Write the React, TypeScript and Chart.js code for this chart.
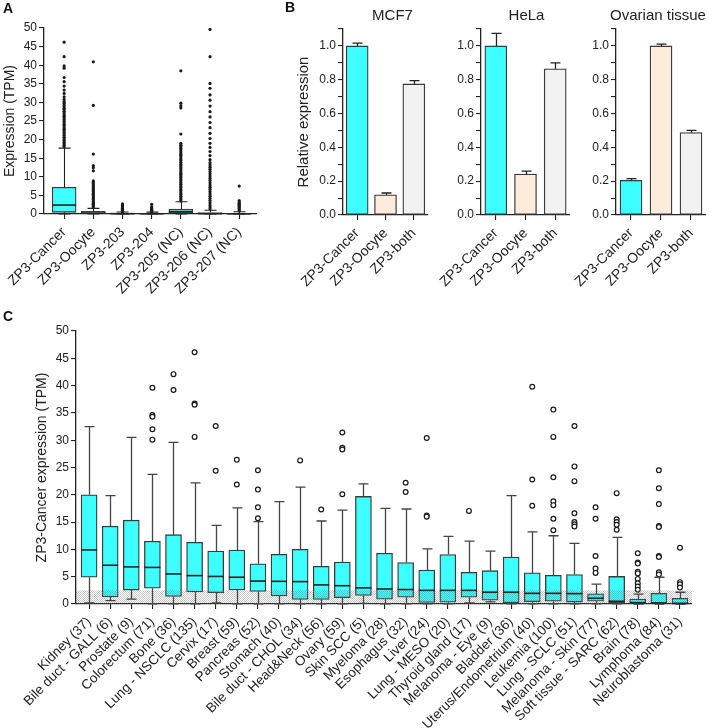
import React, { useEffect, useRef } from 'react';
import { Chart, registerables } from 'chart.js';

Chart.register(...registerables);

const FONT = '"Liberation Sans", Arial, Helvetica, sans-serif';
Chart.defaults.font.family = FONT;
Chart.defaults.color = '#222';

const INK = '#222222';
const EDGE = '#3a3a3a';
const CYAN = '#3EFFFF';
const PEACH = '#FDEBDC';
const LIGHT = '#F2F2F2';

// ---------------- Panel A: transcripts ----------------
const labelsA = ['ZP3-Cancer', 'ZP3-Oocyte', 'ZP3-203', 'ZP3-204', 'ZP3-205 (NC)', 'ZP3-206 (NC)', 'ZP3-207 (NC)'];
const loA = [0, 0, 0, 0, 0, 0, 0];
const q1A = [0.45, 0.05, 0.0, 0.0, 0.2, 0.0, 0.0];
const medA = [2.4, 0.25, 0.08, 0.06, 0.6, 0.1, 0.05];
const q3A = [7.2, 0.7, 0.25, 0.2, 1.3, 0.4, 0.15];
const hiA = [17.7, 1.5, 0.55, 0.5, 3.3, 1.0, 0.6];
const outCancerA = [46.2, 42.3, 39.8, 39.2, 36.7, 35.6, 34.4, 33.3, 32.4, 31.5, 30.8, 30.2, 29.8, 29.3, 28.9, 28.4, 28.1, 27.6, 27.2, 26.7, 26.3, 25.9, 25.4, 25.0, 24.6, 24.1, 23.7, 23.2, 22.8, 22.4, 21.9, 21.5, 21.1, 20.6, 20.2, 19.8, 19.3, 18.9, 18.5, 18.1];
const outOocyteA = [40.9, 29.2, 16.1, 13.0, 12.4, 11.6, 8.9, 8.5, 8.1, 7.8, 7.4, 7.0, 6.7, 6.3, 6.0, 5.6, 5.3, 4.9, 4.6, 4.2, 3.9, 3.5, 3.2, 2.9, 2.6, 2.3, 2.0, 1.7];
const out203A = [2.7, 2.4, 2.2, 1.9, 1.7, 1.5, 1.3, 1.1, 0.9, 0.75, 0.6];
const out204A = [2.6, 1.9, 1.6, 1.4, 1.2, 1.0, 0.85, 0.7, 0.55];
const out205A = [38.5, 29.8, 29.1, 28.5, 21.5, 19.0, 18.5, 18.1, 17.6, 17.2, 16.7, 16.2, 15.8, 15.3, 14.8, 14.4, 13.9, 13.4, 13.0, 12.5, 12.1, 11.6, 11.1, 10.7, 10.2, 9.8, 9.3, 8.9, 8.4, 8.0, 7.5, 7.1, 6.6, 6.2, 5.7, 5.3, 4.8, 4.4, 3.9, 3.5];
const out206A = [49.6, 42.3, 35.1, 33.8, 32.0, 30.6, 29.0, 27.5, 26.1, 24.6, 23.2, 21.7, 20.3, 19.0, 17.9, 16.8, 15.7, 14.6, 13.8, 13.2, 12.6, 12.0, 11.4, 10.8, 10.2, 9.6, 9.0, 8.4, 7.8, 7.2, 6.6, 6.0, 5.4, 4.8, 4.2, 3.6, 3.0, 2.4, 1.9, 1.4];
const out207A = [7.5, 3.6, 3.2, 2.9, 2.6, 2.3, 2.0, 1.7, 1.4, 1.1, 0.8];
const outA = [outCancerA, outOocyteA, out203A, out204A, out205A, out206A, out207A];

// ---------------- Panel B: qPCR ----------------
const labelsB = ['ZP3-Cancer', 'ZP3-Oocyte', 'ZP3-both'];
const mcf7Mean = [1.0, 0.12, 0.775];
const mcf7Err = [0.017, 0.01, 0.02];
const helaMean = [1.0, 0.242, 0.865];
const helaErr = [0.074, 0.018, 0.035];
const ovaryMean = [0.205, 1.0, 0.487];
const ovaryErr = [0.01, 0.01, 0.014];

// ---------------- Panel C: tumour types ----------------
const labelsC = ['Kidney (37)', 'Bile duct - GALL (6)', 'Prostate (9)', 'Colorectum (71)', 'Bone (36)', 'Lung - NSCLC (135)', 'Cervix (17)', 'Breast (59)', 'Pancreas (52)', 'Stomach (40)', 'Bile duct - CHOL (34)', 'Head&Neck (56)', 'Ovary (59)', 'Skin SCC (5)', 'Myeloma (28)', 'Esophagus (32)', 'Liver (24)', 'Lung - MESO (20)', 'Thyroid gland (17)', 'Melanoma - Eye (9)', 'Bladder (36)', 'Uterus/Endometrium (40)', 'Leukemia (100)', 'Lung - SCLC (51)', 'Melanoma - Skin (77)', 'Soft tissue - SARC (62)', 'Brain (78)', 'Lymphoma (84)', 'Neuroblastoma (31)'];
const loC = [0.2, 0.6, 0.9, 0.05, 0.05, 0.05, 0.2, 0.05, 0.05, 0.05, 0.05, 0.05, 0.05, 0.1, 0.05, 0.05, 0.05, 0.05, 0.2, 0.4, 0.05, 0.05, 0.05, 0.05, 0.05, 0.05, 0.0, 0.0, 0.0];
const q1C = [4.9, 1.3, 2.55, 2.9, 1.4, 2.2, 2.07, 2.56, 2.3, 1.46, 0.85, 0.85, 1.16, 1.55, 0.88, 1.25, 0.28, 0.32, 1.25, 0.68, 0.22, 0.42, 0.5, 0.35, 0.5, 0.22, 0.1, 0.05, 0.05];
const medC = [9.9, 7.1, 6.8, 6.7, 5.5, 5.2, 5.05, 4.9, 4.2, 4.15, 4.1, 3.5, 3.35, 2.95, 2.75, 2.65, 2.5, 2.5, 2.5, 2.15, 2.15, 1.95, 1.95, 1.9, 1.05, 0.5, 0.25, 0.2, 0.1];
const q3C = [20.0, 14.25, 15.35, 11.5, 12.7, 11.3, 9.7, 9.87, 7.37, 9.1, 10.0, 6.9, 7.7, 19.7, 9.3, 7.6, 6.2, 9.07, 5.8, 6.1, 8.6, 5.7, 5.24, 5.4, 1.85, 5.05, 0.9, 1.95, 1.05];
const hiC = [32.5, 19.85, 30.5, 23.75, 29.6, 22.2, 14.4, 17.6, 15.1, 18.75, 21.4, 15.2, 17.2, 22.0, 17.5, 17.4, 10.1, 12.4, 11.5, 9.7, 19.85, 13.2, 12.5, 11.1, 3.65, 12.2, 1.8, 4.9, 2.15];
const outC = [
  [], [], [],
  [39.6, 34.6, 34.3, 32.0, 30.1],
  [42.1, 39.2],
  [46.1, 36.7, 36.5, 30.6],
  [32.6, 24.4],
  [26.4, 21.9],
  [24.5, 20.95, 17.7, 15.7],
  [],
  [26.3],
  [17.3],
  [31.4, 28.6, 28.3, 20.1],
  [], [],
  [22.2, 20.5],
  [30.4, 16.2, 16.0],
  [],
  [17.05],
  [], [],
  [39.8, 22.8, 18.0],
  [35.6, 30.6, 23.2, 18.8, 18.1, 15.6, 13.5],
  [32.6, 25.2, 22.5, 16.6, 15.0, 14.6, 14.2],
  [17.7, 15.6, 8.8, 6.5, 5.7],
  [20.3, 15.5, 15.0, 14.5, 13.6],
  [9.3, 7.6, 7.4, 5.9, 5.6, 4.6, 3.8, 3.2, 2.6],
  [24.5, 21.2, 18.3, 14.3, 14.1, 8.8, 8.6, 5.8, 5.4],
  [10.3, 4.0, 3.6, 3.0],
];
const thresholdC = 2.5;

// ---------------- helpers ----------------
const fixSize = (w?: number, h?: number) => (s: any) => {
  if (w != null) s.width = w;
  if (h != null) s.height = h;
  s.paddingLeft = 0;
  s.paddingRight = 0;
  s.paddingTop = 0;
  s.paddingBottom = 0;
};
const intTicks = (n: number) => (s: any) => {
  s.ticks = Array.from({ length: n }, (_, i) => ({ value: i }));
};
const grid = () => ({ display: true, drawOnChartArea: false, drawTicks: true, tickLength: 5, color: INK, lineWidth: 1.1, offset: false });
const border = () => ({ display: true, color: INK, width: 1.3 });

function boxPlugin(d: { lo: number[]; q1: number[]; med: number[]; q3: number[]; hi: number[]; cap: number; boxW: number; whisker: string; lw: number; band?: number }) {
  let pattern: CanvasPattern | null = null;
  return {
    id: 'boxExtras',
    afterDatasetsDraw(chart: any) {
      const { ctx, chartArea } = chart;
      const xs = chart.scales.x;
      const ys = chart.scales.y;
      ctx.save();
      if (d.band != null) {
        if (!pattern) {
          const pc = document.createElement('canvas');
          pc.width = 2;
          pc.height = 2;
          const p = pc.getContext('2d')!;
          p.fillStyle = 'rgba(110,110,110,0.38)';
          p.fillRect(0, 0, 1, 1);
          p.fillRect(1, 1, 1, 1);
          pattern = ctx.createPattern(pc, 'repeat');
        }
        const yb = ys.getPixelForValue(d.band);
        const y0 = ys.getPixelForValue(0);
        ctx.fillStyle = pattern as any;
        ctx.fillRect(chartArea.left, yb, chartArea.right - chartArea.left, y0 - yb);
      }
      ctx.strokeStyle = d.whisker;
      ctx.lineWidth = d.lw;
      d.med.forEach((m, i) => {
        const x = Math.round(xs.getPixelForValue(i)) + 0.5;
        const yHi = ys.getPixelForValue(d.hi[i]);
        const yQ3 = ys.getPixelForValue(d.q3[i]);
        const yQ1 = ys.getPixelForValue(d.q1[i]);
        const yLo = ys.getPixelForValue(d.lo[i]);
        ctx.beginPath();
        ctx.moveTo(x, yQ3);
        ctx.lineTo(x, yHi);
        ctx.moveTo(x - d.cap / 2, yHi);
        ctx.lineTo(x + d.cap / 2, yHi);
        ctx.moveTo(x, yQ1);
        ctx.lineTo(x, yLo);
        ctx.moveTo(x - d.cap / 2, yLo);
        ctx.lineTo(x + d.cap / 2, yLo);
        ctx.stroke();
      });
      ctx.strokeStyle = INK;
      ctx.lineWidth = 1.6;
      d.med.forEach((m, i) => {
        const x = xs.getPixelForValue(i);
        const y = ys.getPixelForValue(m);
        ctx.beginPath();
        ctx.moveTo(x - d.boxW / 2, y);
        ctx.lineTo(x + d.boxW / 2, y);
        ctx.stroke();
      });
      ctx.restore();
    },
  };
}

function errorPlugin(mean: number[], err: number[], title: string, dx: number) {
  return {
    id: 'errAndTitle',
    afterDatasetsDraw(chart: any) {
      const { ctx } = chart;
      const ys = chart.scales.y;
      const meta = chart.getDatasetMeta(0);
      ctx.save();
      ctx.strokeStyle = INK;
      ctx.lineWidth = 1.3;
      meta.data.forEach((bar: any, i: number) => {
        const x = Math.round(bar.x) + 0.5;
        const y1 = ys.getPixelForValue(mean[i]);
        const y2 = ys.getPixelForValue(mean[i] + err[i]);
        ctx.beginPath();
        ctx.moveTo(x, y1);
        ctx.lineTo(x, y2);
        ctx.moveTo(x - 5, y2);
        ctx.lineTo(x + 5, y2);
        ctx.stroke();
      });
      ctx.restore();
    },
    afterDraw(chart: any) {
      const { ctx, chartArea } = chart;
      ctx.save();
      ctx.font = `15px ${FONT}`;
      ctx.fillStyle = INK;
      ctx.textAlign = 'center';
      ctx.textBaseline = 'middle';
      ctx.fillText(title, (chartArea.left + chartArea.right) / 2 + dx, 16);
      ctx.restore();
    },
  };
}

type BoxCfg = {
  labels: string[]; lo: number[]; q1: number[]; med: number[]; q3: number[]; hi: number[]; out: number[][];
  xmin: number; xmax: number; boxW: number; yWidth: number; xHeight: number; padTop: number; padRight: number;
  yTitle: string; yTitlePad: number; xFont: number; cap: number; whisker: string; wlw: number;
  filledPoints: boolean; band?: number;
};

function buildBoxChart(c: BoxCfg) {
  const boxes = c.labels.map((_, i) => ({ x: i, y: [c.q1[i], c.q3[i]] }));
  const pts = c.out.flatMap((arr, i) => arr.map((v) => ({ x: i, y: v })));
  return {
    type: 'bar',
    data: {
      datasets: [
        { type: 'bar', data: boxes, backgroundColor: CYAN, borderColor: EDGE, borderWidth: 1.3, borderSkipped: false, barThickness: c.boxW, order: 2 },
        c.filledPoints
          ? { type: 'scatter', data: pts, pointRadius: 1.6, pointBackgroundColor: '#1a1a1a', pointBorderColor: '#1a1a1a', pointBorderWidth: 0, order: 1 }
          : { type: 'scatter', data: pts, pointRadius: 2.4, pointBackgroundColor: '#ffffff', pointBorderColor: '#1a1a1a', pointBorderWidth: 1.2, order: 1 },
      ],
    },
    options: {
      responsive: false,
      animation: false,
      events: [],
      layout: { padding: { top: c.padTop, right: c.padRight, left: 0, bottom: 0 } },
      plugins: { legend: { display: false }, tooltip: { enabled: false } },
      scales: {
        x: {
          type: 'linear', min: c.xmin, max: c.xmax, offset: false, bounds: 'data',
          afterBuildTicks: intTicks(c.labels.length),
          afterFit: fixSize(undefined, c.xHeight),
          grid: grid(), border: border(),
          ticks: { autoSkip: false, minRotation: 45, maxRotation: 45, padding: 5, color: INK, font: { size: c.xFont }, callback: (v: any) => c.labels[Math.round(v)] ?? '' },
        },
        y: {
          type: 'linear', min: 0, max: 50,
          afterFit: fixSize(c.yWidth, undefined),
          grid: grid(), border: border(),
          ticks: { stepSize: 5, autoSkip: false, padding: 2, color: INK, font: { size: 12 } },
          title: { display: true, text: c.yTitle, color: INK, font: { size: 14 }, padding: { top: c.yTitlePad, bottom: 0 } },
        },
      },
    },
    plugins: [boxPlugin({ lo: c.lo, q1: c.q1, med: c.med, q3: c.q3, hi: c.hi, cap: c.cap, boxW: c.boxW, whisker: c.whisker, lw: c.wlw, band: c.band })],
  };
}

const buildA = () => buildBoxChart({
  labels: labelsA, lo: loA, q1: q1A, med: medA, q3: q3A, hi: hiA, out: outA,
  xmin: -0.69, xmax: 6.61, boxW: 24, yWidth: 44, xHeight: 96, padTop: 28, padRight: 5,
  yTitle: 'Expression (TPM)', yTitlePad: 2, xFont: 14, cap: 12, whisker: INK, wlw: 1.1, filledPoints: true,
});

const buildC = () => buildBoxChart({
  labels: labelsC, lo: loC, q1: q1C, med: medC, q3: q3C, hi: hiC, out: outC,
  xmin: -0.62, xmax: 28.57, boxW: 16, yWidth: 76, xHeight: 124, padTop: 21, padRight: 17,
  yTitle: 'ZP3-Cancer expression (TPM)', yTitlePad: 34, xFont: 13.5, cap: 10, whisker: '#444', wlw: 1.3, filledPoints: false,
  band: thresholdC,
});

function buildB(title: string, mean: number[], err: number[], yWidth: number, padRight: number, dx: number, showTitle: boolean) {
  return {
    type: 'bar',
    data: {
      labels: labelsB,
      datasets: [{ data: mean, backgroundColor: [CYAN, PEACH, LIGHT], borderColor: EDGE, borderWidth: 1.3, borderSkipped: false, barThickness: 22 }],
    },
    options: {
      responsive: false,
      animation: false,
      events: [],
      layout: { padding: { top: 29, right: padRight, left: 0, bottom: 0 } },
      plugins: { legend: { display: false }, tooltip: { enabled: false } },
      scales: {
        x: {
          type: 'category', offset: true,
          afterFit: fixSize(undefined, 95),
          grid: grid(), border: border(),
          ticks: { autoSkip: false, minRotation: 45, maxRotation: 45, padding: 5, color: INK, font: { size: 14 } },
        },
        y: {
          type: 'linear', min: 0, max: 1.1,
          afterFit: fixSize(yWidth, undefined),
          grid: grid(), border: border(),
          ticks: {
            stepSize: 0.1, autoSkip: false, padding: 2, color: INK, font: { size: 12 },
            callback: (v: any) => (Math.round(Number(v) * 10) % 2 === 0 ? Number(v).toFixed(1) : ''),
          },
          title: { display: showTitle, text: 'Relative expression', color: INK, font: { size: 15 }, padding: { top: 33, bottom: 0 } },
        },
      },
    },
    plugins: [errorPlugin(mean, err, title, dx)],
  };
}

const buildMCF7 = () => buildB('MCF7', mcf7Mean, mcf7Err, 81, 2, 7, true);
const buildHeLa = () => buildB('HeLa', helaMean, helaErr, 51, 2, 1, false);
const buildOvary = () => buildB('Ovarian tissue', ovaryMean, ovaryErr, 44, 3, -3, false);

function ChartCanvas({ left, top, width, height, build }: { left: number; top: number; width: number; height: number; build: () => any }) {
  const ref = useRef<HTMLCanvasElement | null>(null);
  useEffect(() => {
    if (!ref.current) return;
    const chart = new Chart(ref.current, build());
    return () => chart.destroy();
  }, [build]);
  return <canvas ref={ref} width={width} height={height} style={{ position: 'absolute', left, top, width, height, display: 'block' }} />;
}

const letter = (left: number, top: number): React.CSSProperties => ({
  position: 'absolute', left, top, font: `bold 14px ${FONT}`, lineHeight: '14px', color: '#111',
});

export default function App() {
  return (
    <div style={{ position: 'fixed', left: 0, top: 0, width: 709, height: 728, background: '#ffffff', overflow: 'hidden' }}>
      <ChartCanvas left={0} top={0} width={262} height={310} build={buildA} />
      <ChartCanvas left={262} top={0} width={168} height={310} build={buildMCF7} />
      <ChartCanvas left={430} top={0} width={142} height={310} build={buildHeLa} />
      <ChartCanvas left={572} top={0} width={137} height={310} build={buildOvary} />
      <ChartCanvas left={0} top={310} width={709} height={418} build={buildC} />
      <div style={letter(3, 1)}>A</div>
      <div style={letter(285, 0)}>B</div>
      <div style={letter(3, 309)}>C</div>
    </div>
  );
}
